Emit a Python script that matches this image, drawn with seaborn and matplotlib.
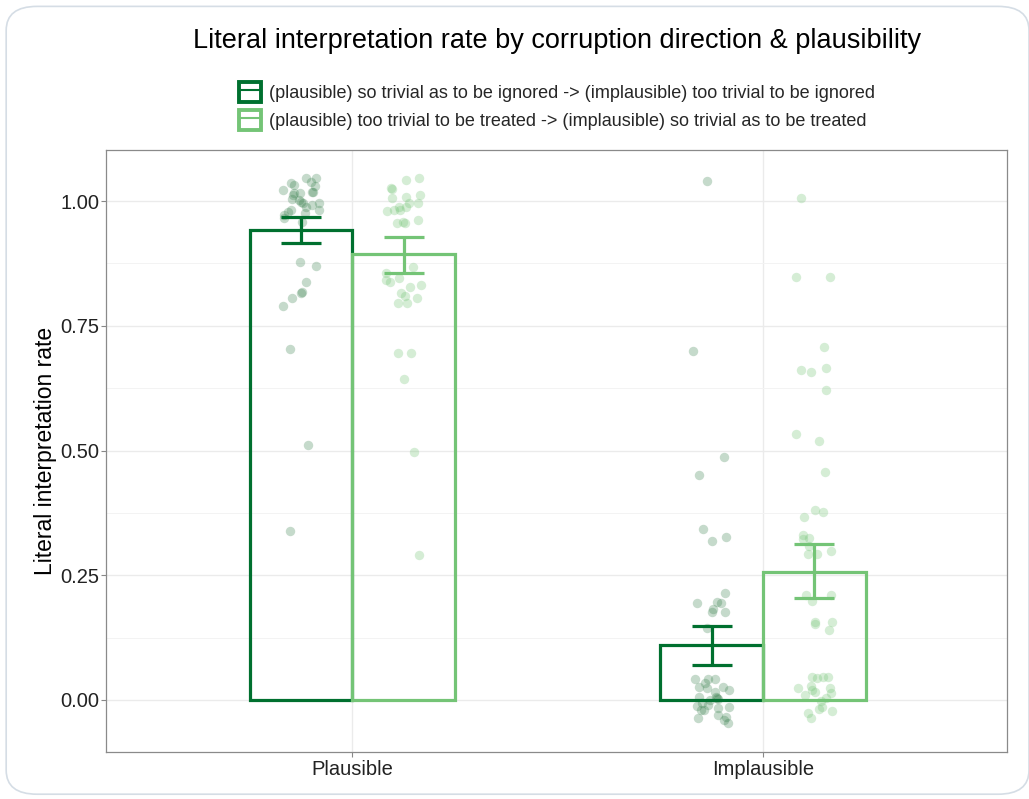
import numpy as np
import pandas as pd
import matplotlib
matplotlib.use("Agg")
import matplotlib.pyplot as plt
import seaborn as sns
from matplotlib.patches import FancyBboxPatch, Rectangle
from matplotlib.lines import Line2D
from matplotlib.container import BarContainer

# ---------------- data ----------------
plausibility = ["Plausible", "Implausible"]
directions = [
    "(plausible) so trivial as to be ignored -> (implausible) too trivial to be ignored",
    "(plausible) too trivial to be treated -> (implausible) so trivial as to be treated",
]
# bar means (direction x plausibility)
mean_dir1 = [0.943, 0.110]
mean_dir2 = [0.893, 0.256]
ci_low_dir1 = [0.916, 0.070]
ci_high_dir1 = [0.969, 0.149]
ci_low_dir2 = [0.856, 0.205]
ci_high_dir2 = [0.929, 0.312]

# participant-level points as displayed (jittered)
pts_plaus_dir1 = [1.046, 1.046, 1.038, 1.036, 1.032, 1.030, 1.022, 1.018, 1.018, 1.016,
                  1.016, 1.012, 1.004, 1.002, 0.998, 0.996, 0.996, 0.992, 0.988, 0.982,
                  0.982, 0.978, 0.976, 0.972, 0.966, 0.958, 0.878, 0.870, 0.838, 0.818,
                  0.816, 0.806, 0.790, 0.703, 0.511, 0.339]
pts_plaus_dir2 = [1.046, 1.042, 1.026, 1.024, 1.012, 1.008, 1.006, 0.996, 0.996, 0.988,
                  0.988, 0.982, 0.982, 0.980, 0.962, 0.958, 0.956, 0.956, 0.868, 0.856,
                  0.846, 0.842, 0.838, 0.832, 0.828, 0.816, 0.810, 0.806, 0.796, 0.796,
                  0.695, 0.695, 0.643, 0.497, 0.291]
pts_implaus_dir1 = [1.040, 0.699, 0.487, 0.451, 0.343, 0.327, 0.319, 0.214, 0.196, 0.194,
                    0.194, 0.182, 0.176, 0.176, 0.144, 0.042, 0.042, 0.042, 0.034, 0.026,
                    0.026, 0.024, 0.020, 0.016, 0.006, 0.004, 0.002, 0.006, 0.000, -0.006,
                    -0.010, -0.012, -0.014, -0.020, -0.016, -0.020, -0.034, -0.030, -0.036,
                    -0.040, -0.046]
pts_implaus_dir2 = [1.006, 0.848, 0.848, 0.707, 0.665, 0.661, 0.657, 0.621, 0.533, 0.519,
                    0.457, 0.381, 0.377, 0.367, 0.331, 0.325, 0.323, 0.309, 0.299, 0.293,
                    0.293, 0.210, 0.210, 0.198, 0.156, 0.156, 0.152, 0.140, 0.046, 0.044,
                    0.046, 0.046, 0.028, 0.024, 0.024, 0.020, 0.016, 0.014, 0.010, 0.004,
                    -0.002, -0.014, -0.018, -0.022, -0.026, -0.036]

y_ticks = [0.00, 0.25, 0.50, 0.75, 1.00]
title = "Literal interpretation rate by corruption direction & plausibility"
y_label = "Literal interpretation rate"

# ---------------- style ----------------
dark = "#00702F"
light = "#74C476"
colors = [dark, light]
point_colors = ["#2f7a45", "#74C476"]
point_alpha = [0.28, 0.3]

sns.set_theme(style="white")
plt.rcParams["font.family"] = ["Liberation Sans", "DejaVu Sans"]

fig = plt.figure(figsize=(10.29, 7.99), dpi=100)
fig.patch.set_facecolor("white")
border = FancyBboxPatch((0.006, 0.006), 0.994, 0.986, boxstyle="round,pad=0,rounding_size=0.03",
                        transform=fig.transFigure, facecolor="none", edgecolor="#d5dde5",
                        linewidth=1.2, zorder=0)
fig.patches.append(border)

ax = fig.add_axes([0.103, 0.059, 0.876, 0.753])

bars = pd.DataFrame({
    "plausibility": plausibility * 2,
    "direction": [directions[0]] * 2 + [directions[1]] * 2,
    "rate": mean_dir1 + mean_dir2,
})
sns.barplot(data=bars, x="plausibility", y="rate", hue="direction", order=plausibility,
            hue_order=directions, palette=colors, width=0.5, fill=False, linewidth=2.3,
            errorbar=None, legend=False, ax=ax, zorder=3)

# bar centres from the library
lows = [ci_low_dir1, ci_low_dir2]
highs = [ci_high_dir1, ci_high_dir2]
means = [mean_dir1, mean_dir2]
point_sets = [[pts_plaus_dir1, pts_implaus_dir1], [pts_plaus_dir2, pts_implaus_dir2]]
rng = np.random.default_rng(7)
bar_conts = [c for c in ax.containers if isinstance(c, BarContainer)]
for h, cont in enumerate(bar_conts):
    for c, patch in enumerate(list(cont.patches)):
        xc = patch.get_x() + patch.get_width() / 2
        pts = np.array(point_sets[h][c])
        xj = xc + rng.uniform(-0.045, 0.045, size=len(pts))
        ax.scatter(xj, pts, s=46, color=point_colors[h], alpha=point_alpha[h],
                   linewidths=0, zorder=2)
        m = means[h][c]
        ax.errorbar([xc], [m], yerr=[[m - lows[h][c]], [highs[h][c] - m]], fmt="none",
                    ecolor=colors[h], elinewidth=2.3, capsize=14.5, capthick=2.3, zorder=4)

ax.set_xlim(-0.6, 1.595)
ax.set_ylim(-0.104, 1.102)
ax.set_yticks(y_ticks)
ax.set_yticklabels([f"{v:.2f}" for v in y_ticks])
ax.set_yticks([0.125, 0.375, 0.625, 0.875], minor=True)
ax.grid(True, which="major", color="#ebebeb", linewidth=1.0, zorder=0)
ax.grid(True, which="minor", axis="y", color="#f3f3f3", linewidth=0.7, zorder=0)
ax.set_axisbelow(True)
ax.set_xlabel("")
ax.set_ylabel(y_label, fontsize=16.5, color="black", labelpad=2)
ax.tick_params(axis="both", which="major", labelsize=14.5, labelcolor="#222222",
               length=3.5, width=0.8, color="#888888", direction="out", pad=1.5,
               bottom=True, left=True)
ax.tick_params(axis="x", which="major", pad=2.5)
ax.tick_params(axis="y", which="minor", length=0)
for s in ax.spines.values():
    s.set_color("#8a8a8a")
    s.set_linewidth(0.9)

fig.text(0.541, 1 - 41 / 799, title, ha="center", va="center", fontsize=19.5, color="black")

handles = []
for col in colors:
    r = Rectangle((0, 0), 1, 1, facecolor="none", edgecolor=col, linewidth=2.8)
    ln = Line2D([0], [0], color=col, linewidth=1.5)
    handles.append((r, ln))
fig.legend(handles, directions, loc="upper center", bbox_to_anchor=(0.541, 0.907),
           frameon=False, fontsize=13, handlelength=1.25, handleheight=1.35,
           handletextpad=0.4, labelspacing=0.45, borderaxespad=0)

fig.savefig("out.png", dpi=100, facecolor="white")
